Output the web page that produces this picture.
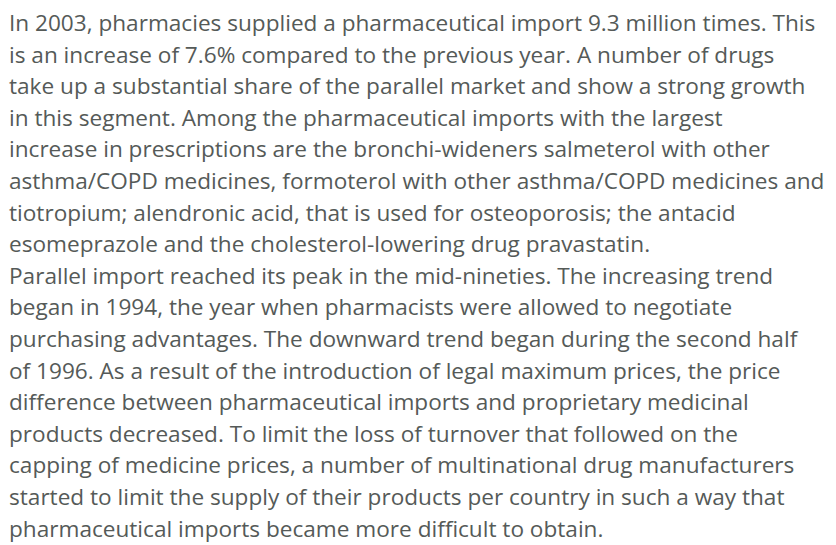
<!DOCTYPE html>
<html>
<head>
<meta charset="utf-8">
<script src="https://cdn.jsdelivr.net/npm/chart.js@4/dist/chart.umd.min.js"></script>
<style>
  html, body { margin: 0; padding: 0; background: #fff; }
  body { width: 836px; height: 545px; overflow: hidden; }
  .text {
    position: absolute; left: 9px; top: 7px;
    font-family: "Open Sans", sans-serif; font-size: 22.6px;
    line-height: 31.6px; color: #555a58;
  }
  .text div { white-space: nowrap; }
</style>
</head>
<body>
<div class="text" id="text"></div>
<script>
const lines = [
  'In 2003, pharmacies supplied a pharmaceutical import 9.3 million times. This',
  'is an increase of 7.6% compared to the previous year. A number of drugs',
  'take up a substantial share of the parallel market and show a strong growth',
  'in this segment. Among the pharmaceutical imports with the largest',
  'increase in prescriptions are the bronchi-wideners salmeterol with other',
  'asthma/COPD medicines, formoterol with other asthma/COPD medicines and',
  'tiotropium; alendronic acid, that is used for osteoporosis; the antacid',
  'esomeprazole and the cholesterol-lowering drug pravastatin.',
  'Parallel import reached its peak in the mid-nineties. The increasing trend',
  'began in 1994, the year when pharmacists were allowed to negotiate',
  'purchasing advantages. The downward trend began during the second half',
  'of 1996. As a result of the introduction of legal maximum prices, the price',
  'difference between pharmaceutical imports and proprietary medicinal',
  'products decreased. To limit the loss of turnover that followed on the',
  'capping of medicine prices, a number of multinational drug manufacturers',
  'started to limit the supply of their products per country in such a way that',
  'pharmaceutical imports became more difficult to obtain.'
];
const box = document.getElementById('text');
lines.forEach(t => {
  const d = document.createElement('div');
  d.textContent = t;
  box.appendChild(d);
});
</script>
</body>
</html>
